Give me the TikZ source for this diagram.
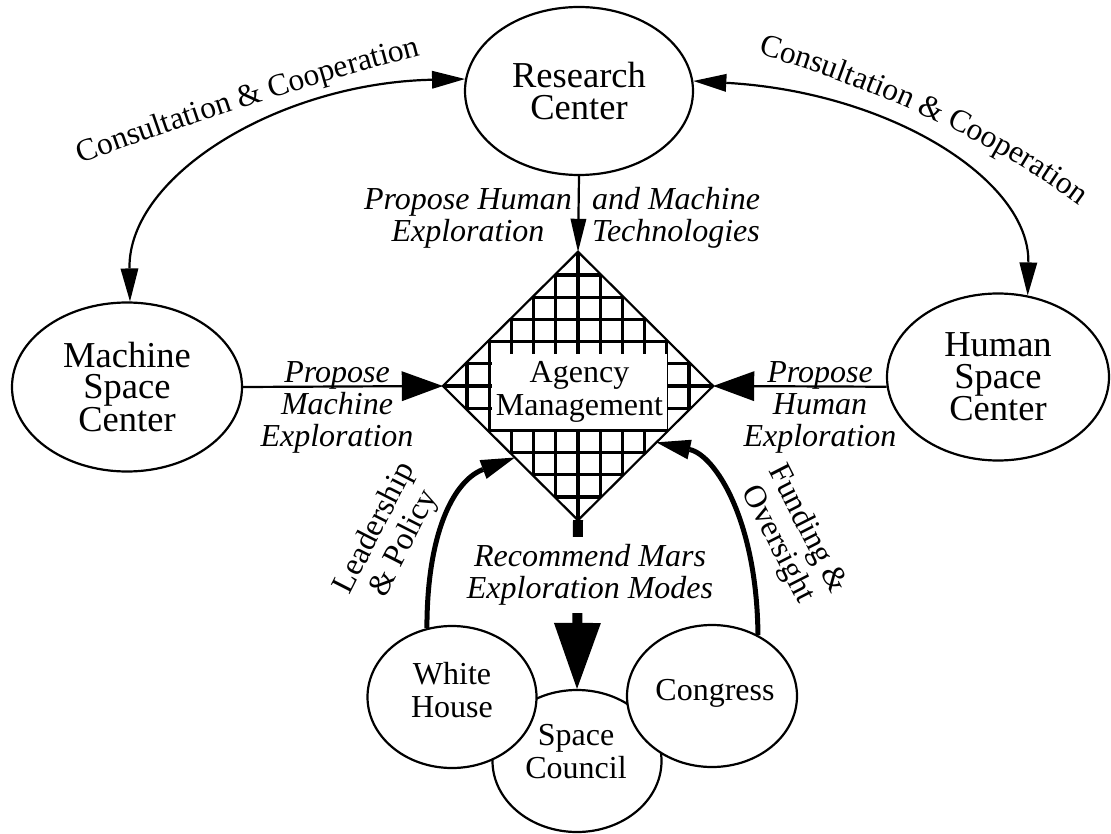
\documentclass[tikz,border=0pt]{standalone}
\usepackage{fontspec}
\setmainfont{Liberation Serif}
\usetikzlibrary{arrows.meta,shapes.geometric,decorations.text,calc}
\begin{document}
\begin{tikzpicture}[x=1pt,y=-1pt,
  ell/.style={draw, ellipse, line width=2.2pt, fill=white, inner sep=0pt},
  bigfont/.style={font=\fontsize{36.5}{31.5}\selectfont, align=center},
  midfont/.style={font=\fontsize{32}{33}\selectfont, align=center},
  itfont/.style={font=\fontsize{32}{32}\selectfont\itshape, align=center},
  ln/.style={line width=2.2pt},
  gridln/.style={line width=3.3pt},
  thick5/.style={line width=5pt},
]
\useasboundingbox (0,0) rectangle (1111,834);
\fill[white] (0,0) rectangle (1111,834);

% main ellipses
\node[ell, bigfont, minimum width=228pt, minimum height=168pt] (rc) at (579,91) {Research\\Center};
\node[ell, bigfont, minimum width=230pt, minimum height=169pt] (msc) at (127,387) {Machine\\Space\\Center};
\node[ell, bigfont, minimum width=222pt, minimum height=167pt] (hsc) at (998,377) {Human\\Space\\Center};

% diamond
\node[diamond, minimum width=270pt, minimum height=268pt, inner sep=0pt] (am) at (578,386) {};
\begin{scope}
  \clip (am.north) -- (am.east) -- (am.south) -- (am.west) -- cycle;
  \foreach \k in {-6,...,6} {
    \draw[gridln] ($(am.center)+(\k*22.2,-140)$) -- ($(am.center)+(\k*22.2,140)$);
    \draw[gridln] ($(am.center)+(-140,\k*22.2)$) -- ($(am.center)+(140,\k*22.2)$);
  }
\end{scope}
\draw[ln] (am.north) -- (am.east) -- (am.south) -- (am.west) -- cycle;
\node[fill=white, inner sep=0pt, minimum width=175pt, minimum height=75pt, midfont] (ag) at (579.5,391.5) {Agency\\Management};

% bottom ellipses
\node[ell, minimum width=169pt, minimum height=142pt] (sc) at (577,761) {};
\node[ell, minimum width=169pt, minimum height=142pt] (wh) at (452,697) {};
\node[ell, minimum width=170pt, minimum height=142pt] (cg) at (712,696) {};
\node[midfont] (scT) at (576,752) {Space\\Council};
\node[midfont] (whT) at (452,690) {White\\House};
\node[midfont] (cgT) at (715,693) {Congress};

% straight arrows
\draw[ln, -{Triangle[length=33pt,width=16pt,line width=0pt]}] (rc.south) -- (am.north);
\draw[ln, -{Triangle[length=41pt,width=30pt,line width=0pt]}] (msc.east) -- (am.west);
\draw[ln, -{Triangle[length=41pt,width=30pt,line width=0pt]}] (hsc.185) -- (am.east);

% curved consultation arrows
\draw[ln, {Triangle[length=33pt,width=18pt,line width=0pt]}-{Triangle[length=33pt,width=18pt,line width=0pt]}]
  (msc.88) .. controls (128,175) and (280,83) .. (rc.174);
\draw[ln, {Triangle[length=33pt,width=18pt,line width=0pt]}-{Triangle[length=33pt,width=18pt,line width=0pt]}]
  (rc.5) .. controls (890,92) and (1030,180) .. (hsc.70);

% thick arrows
\coordinate (lpEnd) at ($(am.west)!0.533!(am.south)$);
\coordinate (fEnd) at ($(am.east)!0.42!(am.south)$);
\draw[thick5, -{Triangle[length=34pt,width=20pt,line width=0pt]}] (wh.110) .. controls (427,530) and (455,480) .. (lpEnd);
\draw[thick5, -{Triangle[length=34pt,width=20pt,line width=0pt]}] (cg.53) .. controls (757,520) and (715,455) .. (fEnd);

\draw[line width=10pt, -{Triangle[length=66pt,width=47pt,line width=0pt]}] (am.south) -- (sc.north);
\node[itfont, fill=white, inner xsep=4pt, inner ysep=7pt] (rec) at (590,575) {Recommend Mars\\Exploration Modes};

% labels
\node[itfont] (tl) at (468,218) {Propose Human\\Exploration};
\node[itfont] (tr) at (676,218) {and Machine\\Technologies};
\node[itfont] (ml) at (337,407) {Propose\\Machine\\Exploration};
\node[itfont] (hl) at (820,407) {Propose\\Human\\Exploration};
\node[midfont, rotate=63] (lp) at (390,536) {Leadership\\\& Policy};
\node[midfont, rotate=-63] (fo) at (792,537) {Funding \&\\Oversight};

\path[decorate, decoration={text along path, text align=center,
  text={|\fontsize{31.5}{31.5}\selectfont|Consultation {\&} Cooperation}}]
  (68,168) .. controls (186,125) and (310,83) .. (434,52);
\path[decorate, decoration={text along path, text align=center,
  text={|\fontsize{31.5}{31.5}\selectfont|Consultation {\&} Cooperation}}]
  (748,51) .. controls (863,84) and (992,138) .. (1088,212);
\end{tikzpicture}
\end{document}
